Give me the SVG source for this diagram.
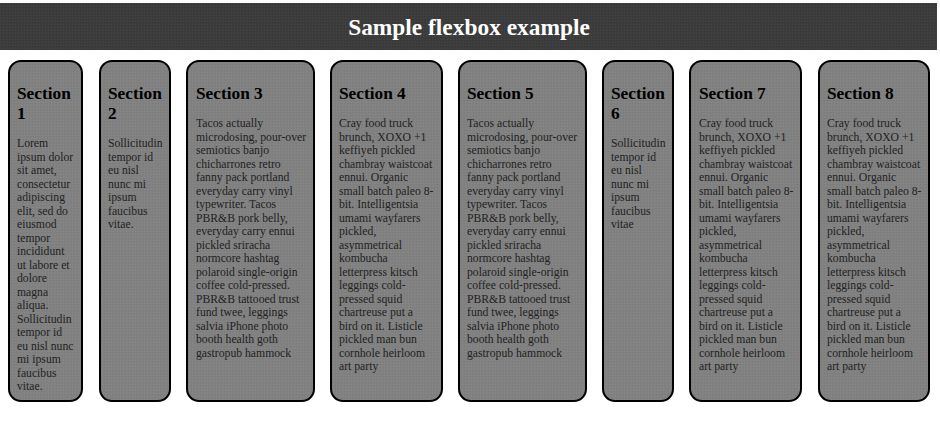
<svg xmlns="http://www.w3.org/2000/svg" width="940" height="424" viewBox="0 0 940 424">
  <defs>
    <pattern id="texHead" width="3" height="3" patternUnits="userSpaceOnUse">
      <rect width="3" height="3" fill="#3c3c3c"/>
      <rect x="0" y="0" width="1" height="1" fill="#444444"/>
      <rect x="2" y="1" width="1" height="1" fill="#363636"/>
    </pattern>
    <pattern id="texBox" width="3" height="3" patternUnits="userSpaceOnUse">
      <rect width="3" height="3" fill="#818181"/>
      <rect x="0" y="0" width="1" height="1" fill="#888888"/>
      <rect x="2" y="1" width="1" height="1" fill="#7b7b7b"/>
    </pattern>
  </defs>
  <style>
    .box { fill: url(#texBox); stroke: #000; stroke-width: 2; }
    .h { font-family: "Liberation Serif", "Times New Roman", serif; font-weight: bold; font-size: 17.3px; fill: #000; }
    .b { font-family: "Liberation Serif", "Times New Roman", serif; font-size: 11.7px; fill: #222222; }
    .title { font-family: "Liberation Serif", "Times New Roman", serif; font-weight: bold; font-size: 23.4px; fill: #fff; }
  </style>
  <rect width="940" height="424" fill="#fff"/>
  <g id="header">
    <rect x="0" y="3" width="937" height="47" fill="url(#texHead)"/>
    <text class="title" x="469" y="35" text-anchor="middle">Sample flexbox example</text>
  </g>
  <g id="connectors"/>
  <g id="section1">
    <rect class="box" x="9" y="61" width="73" height="340" rx="12"/>
    <text class="h"><tspan x="17" y="99">Section</tspan><tspan x="17" y="118.5">1</tspan></text>
    <text class="b">
      <tspan x="17" y="147">Lorem</tspan>
      <tspan x="17" dy="13.5">ipsum dolor</tspan>
      <tspan x="17" dy="13.5">sit amet,</tspan>
      <tspan x="17" dy="13.5">consectetur</tspan>
      <tspan x="17" dy="13.5">adipiscing</tspan>
      <tspan x="17" dy="13.5">elit, sed do</tspan>
      <tspan x="17" dy="13.5">eiusmod</tspan>
      <tspan x="17" dy="13.5">tempor</tspan>
      <tspan x="17" dy="13.5">incididunt</tspan>
      <tspan x="17" dy="13.5">ut labore et</tspan>
      <tspan x="17" dy="13.5">dolore</tspan>
      <tspan x="17" dy="13.5">magna</tspan>
      <tspan x="17" dy="13.5">aliqua.</tspan>
      <tspan x="17" dy="13.5">Sollicitudin</tspan>
      <tspan x="17" dy="13.5">tempor id</tspan>
      <tspan x="17" dy="13.5">eu nisl nunc</tspan>
      <tspan x="17" dy="13.5">mi ipsum</tspan>
      <tspan x="17" dy="13.5">faucibus</tspan>
      <tspan x="17" dy="13.5">vitae.</tspan>
    </text>
  </g>
  <g id="section2">
    <rect class="box" x="100" y="61" width="70" height="340" rx="12"/>
    <text class="h"><tspan x="108" y="99">Section</tspan><tspan x="108" y="118.5">2</tspan></text>
    <text class="b">
      <tspan x="108" y="147">Sollicitudin</tspan>
      <tspan x="108" dy="13.5">tempor id</tspan>
      <tspan x="108" dy="13.5">eu nisl</tspan>
      <tspan x="108" dy="13.5">nunc mi</tspan>
      <tspan x="108" dy="13.5">ipsum</tspan>
      <tspan x="108" dy="13.5">faucibus</tspan>
      <tspan x="108" dy="13.5">vitae.</tspan>
    </text>
  </g>
  <g id="section3">
    <rect class="box" x="187" y="61" width="127" height="340" rx="12"/>
    <text class="h" x="196" y="99">Section 3</text>
    <text class="b">
      <tspan x="196" y="127">Tacos actually</tspan>
      <tspan x="196" dy="13.5">microdosing, pour-over</tspan>
      <tspan x="196" dy="13.5">semiotics banjo</tspan>
      <tspan x="196" dy="13.5">chicharrones retro</tspan>
      <tspan x="196" dy="13.5">fanny pack portland</tspan>
      <tspan x="196" dy="13.5">everyday carry vinyl</tspan>
      <tspan x="196" dy="13.5">typewriter. Tacos</tspan>
      <tspan x="196" dy="13.5">PBR&amp;B pork belly,</tspan>
      <tspan x="196" dy="13.5">everyday carry ennui</tspan>
      <tspan x="196" dy="13.5">pickled sriracha</tspan>
      <tspan x="196" dy="13.5">normcore hashtag</tspan>
      <tspan x="196" dy="13.5">polaroid single-origin</tspan>
      <tspan x="196" dy="13.5">coffee cold-pressed.</tspan>
      <tspan x="196" dy="13.5">PBR&amp;B tattooed trust</tspan>
      <tspan x="196" dy="13.5">fund twee, leggings</tspan>
      <tspan x="196" dy="13.5">salvia iPhone photo</tspan>
      <tspan x="196" dy="13.5">booth health goth</tspan>
      <tspan x="196" dy="13.5">gastropub hammock</tspan>
    </text>
  </g>
  <g id="section4">
    <rect class="box" x="331" y="61" width="111" height="340" rx="12"/>
    <text class="h" x="339" y="99">Section 4</text>
    <text class="b">
      <tspan x="339" y="127">Cray food truck</tspan>
      <tspan x="339" dy="13.5">brunch, XOXO +1</tspan>
      <tspan x="339" dy="13.5">keffiyeh pickled</tspan>
      <tspan x="339" dy="13.5">chambray waistcoat</tspan>
      <tspan x="339" dy="13.5">ennui. Organic</tspan>
      <tspan x="339" dy="13.5">small batch paleo 8-</tspan>
      <tspan x="339" dy="13.5">bit. Intelligentsia</tspan>
      <tspan x="339" dy="13.5">umami wayfarers</tspan>
      <tspan x="339" dy="13.5">pickled,</tspan>
      <tspan x="339" dy="13.5">asymmetrical</tspan>
      <tspan x="339" dy="13.5">kombucha</tspan>
      <tspan x="339" dy="13.5">letterpress kitsch</tspan>
      <tspan x="339" dy="13.5">leggings cold-</tspan>
      <tspan x="339" dy="13.5">pressed squid</tspan>
      <tspan x="339" dy="13.5">chartreuse put a</tspan>
      <tspan x="339" dy="13.5">bird on it. Listicle</tspan>
      <tspan x="339" dy="13.5">pickled man bun</tspan>
      <tspan x="339" dy="13.5">cornhole heirloom</tspan>
      <tspan x="339" dy="13.5">art party</tspan>
    </text>
  </g>
  <g id="section5">
    <rect class="box" x="459" y="61" width="127" height="340" rx="12"/>
    <text class="h" x="467" y="99">Section 5</text>
    <text class="b">
      <tspan x="467" y="127">Tacos actually</tspan>
      <tspan x="467" dy="13.5">microdosing, pour-over</tspan>
      <tspan x="467" dy="13.5">semiotics banjo</tspan>
      <tspan x="467" dy="13.5">chicharrones retro</tspan>
      <tspan x="467" dy="13.5">fanny pack portland</tspan>
      <tspan x="467" dy="13.5">everyday carry vinyl</tspan>
      <tspan x="467" dy="13.5">typewriter. Tacos</tspan>
      <tspan x="467" dy="13.5">PBR&amp;B pork belly,</tspan>
      <tspan x="467" dy="13.5">everyday carry ennui</tspan>
      <tspan x="467" dy="13.5">pickled sriracha</tspan>
      <tspan x="467" dy="13.5">normcore hashtag</tspan>
      <tspan x="467" dy="13.5">polaroid single-origin</tspan>
      <tspan x="467" dy="13.5">coffee cold-pressed.</tspan>
      <tspan x="467" dy="13.5">PBR&amp;B tattooed trust</tspan>
      <tspan x="467" dy="13.5">fund twee, leggings</tspan>
      <tspan x="467" dy="13.5">salvia iPhone photo</tspan>
      <tspan x="467" dy="13.5">booth health goth</tspan>
      <tspan x="467" dy="13.5">gastropub hammock</tspan>
    </text>
  </g>
  <g id="section6">
    <rect class="box" x="603" y="61" width="70" height="340" rx="12"/>
    <text class="h"><tspan x="611" y="99">Section</tspan><tspan x="611" y="118.5">6</tspan></text>
    <text class="b">
      <tspan x="611" y="147">Sollicitudin</tspan>
      <tspan x="611" dy="13.5">tempor id</tspan>
      <tspan x="611" dy="13.5">eu nisl</tspan>
      <tspan x="611" dy="13.5">nunc mi</tspan>
      <tspan x="611" dy="13.5">ipsum</tspan>
      <tspan x="611" dy="13.5">faucibus</tspan>
      <tspan x="611" dy="13.5">vitae</tspan>
    </text>
  </g>
  <g id="section7">
    <rect class="box" x="690" y="61" width="111" height="340" rx="12"/>
    <text class="h" x="699" y="99">Section 7</text>
    <text class="b">
      <tspan x="699" y="127">Cray food truck</tspan>
      <tspan x="699" dy="13.5">brunch, XOXO +1</tspan>
      <tspan x="699" dy="13.5">keffiyeh pickled</tspan>
      <tspan x="699" dy="13.5">chambray waistcoat</tspan>
      <tspan x="699" dy="13.5">ennui. Organic</tspan>
      <tspan x="699" dy="13.5">small batch paleo 8-</tspan>
      <tspan x="699" dy="13.5">bit. Intelligentsia</tspan>
      <tspan x="699" dy="13.5">umami wayfarers</tspan>
      <tspan x="699" dy="13.5">pickled,</tspan>
      <tspan x="699" dy="13.5">asymmetrical</tspan>
      <tspan x="699" dy="13.5">kombucha</tspan>
      <tspan x="699" dy="13.5">letterpress kitsch</tspan>
      <tspan x="699" dy="13.5">leggings cold-</tspan>
      <tspan x="699" dy="13.5">pressed squid</tspan>
      <tspan x="699" dy="13.5">chartreuse put a</tspan>
      <tspan x="699" dy="13.5">bird on it. Listicle</tspan>
      <tspan x="699" dy="13.5">pickled man bun</tspan>
      <tspan x="699" dy="13.5">cornhole heirloom</tspan>
      <tspan x="699" dy="13.5">art party</tspan>
    </text>
  </g>
  <g id="section8">
    <rect class="box" x="819" y="61" width="110" height="340" rx="12"/>
    <text class="h" x="827" y="99">Section 8</text>
    <text class="b">
      <tspan x="827" y="127">Cray food truck</tspan>
      <tspan x="827" dy="13.5">brunch, XOXO +1</tspan>
      <tspan x="827" dy="13.5">keffiyeh pickled</tspan>
      <tspan x="827" dy="13.5">chambray waistcoat</tspan>
      <tspan x="827" dy="13.5">ennui. Organic</tspan>
      <tspan x="827" dy="13.5">small batch paleo 8-</tspan>
      <tspan x="827" dy="13.5">bit. Intelligentsia</tspan>
      <tspan x="827" dy="13.5">umami wayfarers</tspan>
      <tspan x="827" dy="13.5">pickled,</tspan>
      <tspan x="827" dy="13.5">asymmetrical</tspan>
      <tspan x="827" dy="13.5">kombucha</tspan>
      <tspan x="827" dy="13.5">letterpress kitsch</tspan>
      <tspan x="827" dy="13.5">leggings cold-</tspan>
      <tspan x="827" dy="13.5">pressed squid</tspan>
      <tspan x="827" dy="13.5">chartreuse put a</tspan>
      <tspan x="827" dy="13.5">bird on it. Listicle</tspan>
      <tspan x="827" dy="13.5">pickled man bun</tspan>
      <tspan x="827" dy="13.5">cornhole heirloom</tspan>
      <tspan x="827" dy="13.5">art party</tspan>
    </text>
  </g>
</svg>
